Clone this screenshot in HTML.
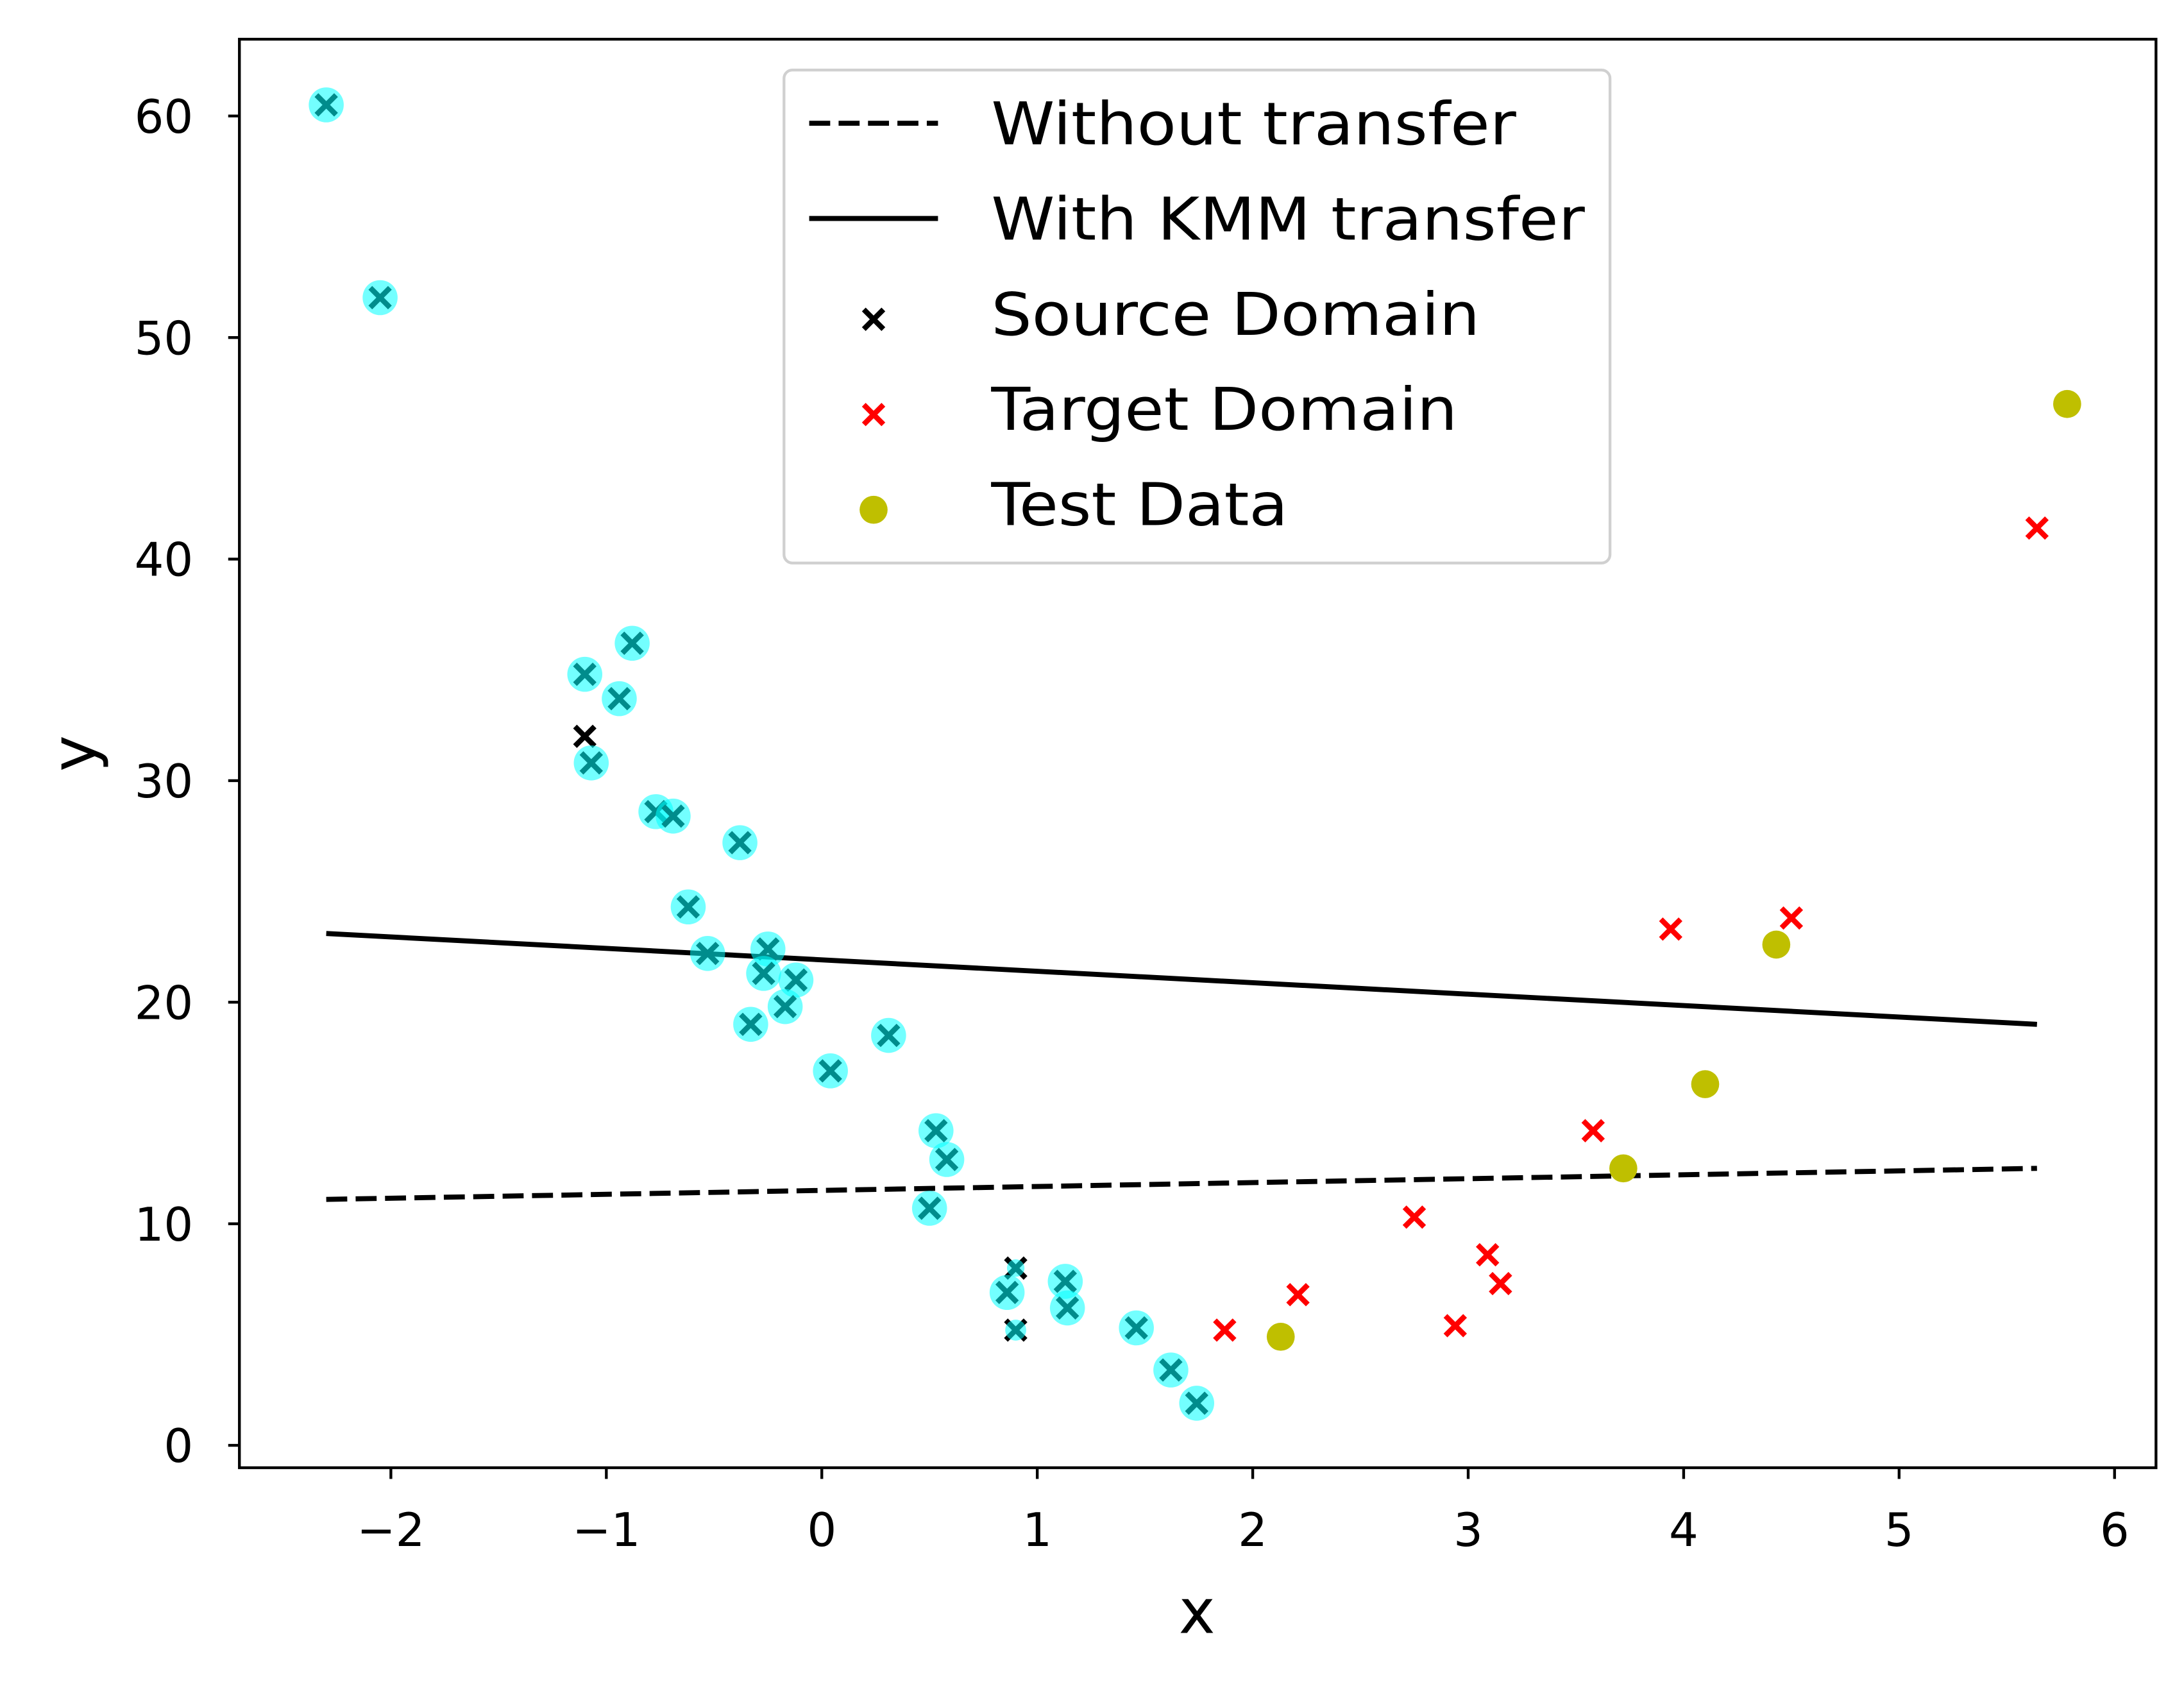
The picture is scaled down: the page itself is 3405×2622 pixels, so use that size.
<!DOCTYPE html>
<html><head><meta charset="utf-8"><style>
html,body{margin:0;padding:0;background:#fff;}
svg{display:block;}
text{font-family:"DejaVu Sans","Liberation Sans",sans-serif;}
</style></head><body>
<svg id="chart" width="3405" height="2622" viewBox="0 0 1560 1201" preserveAspectRatio="none" xmlns="http://www.w3.org/2000/svg">
<rect x="0" y="0" width="1560" height="1201" fill="#fff"/>
<g id="plot"></g>
</svg>
<script>
const sourceX = [-2.30,-2.05,-1.10,-0.88,-0.94,-1.10,-1.07,-0.77,-0.69,-0.38,-0.62,-0.53,-0.25,-0.27,-0.12,-0.17,-0.33,0.31,0.04,0.53,0.58,0.50,0.90,0.86,0.90,1.13,1.14,1.46,1.62,1.74];
const sourceY = [60.5,51.8,34.8,36.2,33.7,32.0,30.8,28.6,28.4,27.2,24.3,22.2,22.4,21.3,21.0,19.8,19.0,18.5,16.9,14.2,12.9,10.7,8.0,6.9,5.2,7.4,6.2,5.3,3.4,1.9];
const sourceWeight = [1,1,1,1,1,0,1,1,1,1,1,1,1,1,1,1,1,1,1,1,1,1,0.5,1,0.6,1,1,1,1,1];
const targetX = [1.87,2.21,2.75,2.94,3.09,3.15,3.58,3.94,4.50,5.64];
const targetY = [5.2,6.8,10.3,5.4,8.6,7.3,14.2,23.3,23.8,41.4];
const testX = [2.13,3.72,4.10,4.43,5.78];
const testY = [4.9,12.5,16.3,22.6,47.0];
const lineX = [-2.3,5.64];
const noTransferY = [11.1,12.5];
const kmmY = [23.1,19.0];
const xTicks = [-2,-1,0,1,2,3,4,5,6];
const xTickLabels = ["\u22122","\u22121","0","1","2","3","4","5","6"];
const yTicks = [0,10,20,30,40,50,60];
const yTickLabels = ["0","10","20","30","40","50","60"];

const L=171,R=1540,T=28,B=1048;
const sx = v => 587 + v*153.9;
const sy = v => 1032 - v*15.82;
const NS="http://www.w3.org/2000/svg";
const g=document.getElementById('plot');
function mk(tag,attrs,parent){const e=document.createElementNS(NS,tag);for(const k in attrs)e.setAttribute(k,attrs[k]);(parent||g).appendChild(e);return e;}
function cross(cx,cy,h,color,w,parent){
  return mk('path',{d:`M${cx-h},${cy-h}L${cx+h},${cy+h}M${cx-h},${cy+h}L${cx+h},${cy-h}`,stroke:color,'stroke-width':w,fill:'none'},parent);
}
const l1=mk('line',{x1:sx(lineX[0]),y1:sy(noTransferY[0]),x2:sx(lineX[1]),y2:sy(noTransferY[1]),stroke:'#000','stroke-width':3.6,'stroke-dasharray':'15 6'});


const l2=mk('line',{x1:sx(lineX[0]),y1:sy(kmmY[0]),x2:sx(lineX[1]),y2:sy(kmmY[1]),stroke:'#000','stroke-width':3.6});


for(let i=0;i<sourceX.length;i++){
  const m=cross(sx(sourceX[i]),sy(sourceY[i]),7,'#000',3.8);
  
  
  if(sourceWeight[i]>0){
    const c=mk('circle',{cx:sx(sourceX[i]),cy:sy(sourceY[i]),r:12.5*sourceWeight[i],fill:'#00ffff','fill-opacity':0.55});
    
    
  }
}
for(let i=0;i<targetX.length;i++){
  const m=cross(sx(targetX[i]),sy(targetY[i]),7,'#ff0000',3.8);
  
  
}
for(let i=0;i<testX.length;i++){
  const c=mk('circle',{cx:sx(testX[i]),cy:sy(testY[i]),r:10,fill:'#bfbf00'});
  
  
}
const fr=mk('rect',{x:L,y:T,width:R-L,height:B-T,fill:'none',stroke:'#000','stroke-width':2});


for(let i=0;i<xTicks.length;i++){
  const x=sx(xTicks[i]);
  mk('line',{x1:x,y1:B,x2:x,y2:B+8,stroke:'#000','stroke-width':2});
  const t=mk('text',{x:x,y:B+56,'font-size':33,'text-anchor':'middle'});
  t.textContent=xTickLabels[i];
  
  
}
for(let i=0;i<yTicks.length;i++){
  const y=sy(yTicks[i]);
  mk('line',{x1:L-8,y1:y,x2:L,y2:y,stroke:'#000','stroke-width':2});
  const t=mk('text',{x:L-33,y:y+12,'font-size':33,'text-anchor':'end'});
  t.textContent=yTickLabels[i];
  
  
}
const xl=mk('text',{x:855,y:1166,'font-size':44,'text-anchor':'middle'});xl.textContent='x';


const yl=mk('text',{x:0,y:0,'font-size':44,'text-anchor':'middle',transform:`translate(68,${(T+B)/2}) rotate(-90)`});yl.textContent='y';


const lg=mk('g',{});


mk('rect',{x:560,y:50,width:590,height:352,rx:6,fill:'#fff','fill-opacity':0.8,stroke:'#d0d0d0','stroke-width':2},lg);
const labels=['Without transfer','With KMM transfer','Source Domain','Target Domain','Test Data'];
const ys=[88,156,224,292,360];
mk('line',{x1:578,y1:ys[0],x2:670,y2:ys[0],stroke:'#000','stroke-width':3.6,'stroke-dasharray':'15 6'},lg);
mk('line',{x1:578,y1:ys[1],x2:670,y2:ys[1],stroke:'#000','stroke-width':3.6},lg);
cross(624,ys[2]+4,7,'#000',3.8,lg);
cross(624,ys[3]+4,7,'#ff0000',3.8,lg);
mk('circle',{cx:624,cy:ys[4]+4,r:10,fill:'#bfbf00'},lg);
for(let i=0;i<labels.length;i++){
  const t=mk('text',{x:708,y:ys[i]+15,'font-size':42,textLength:[375,424,349,333,212][i],lengthAdjust:'spacingAndGlyphs'},lg);
  t.textContent=labels[i];
  
  
}
</script>
</body></html>
